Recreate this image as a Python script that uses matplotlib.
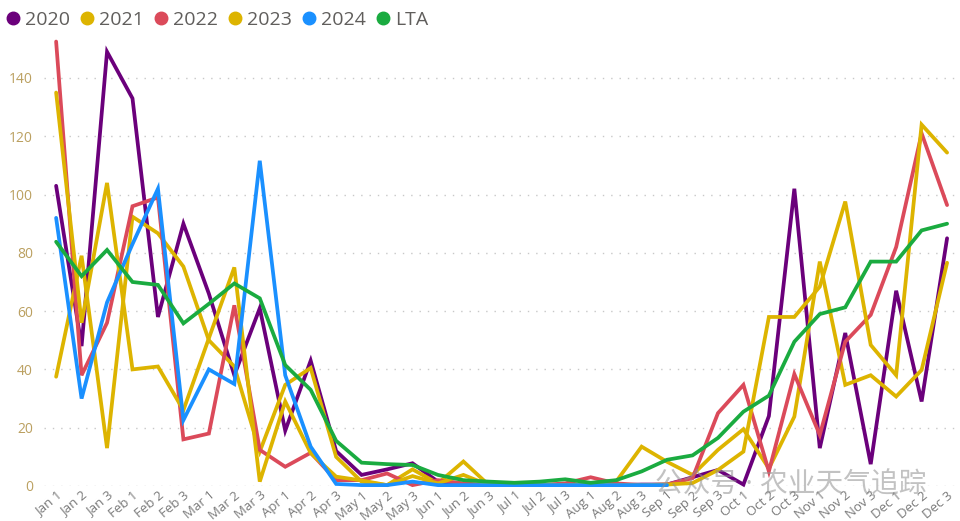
import numpy as np
import matplotlib
matplotlib.use("Agg")
import matplotlib.pyplot as plt
from matplotlib.lines import Line2D

plt.rcParams['font.family'] = ['Open Sans', 'Noto Sans CJK SC', 'DejaVu Sans']

# dekad labels
periods = ['Jan 1', 'Jan 2', 'Jan 3', 'Feb 1', 'Feb 2', 'Feb 3', 'Mar 1', 'Mar 2', 'Mar 3',
           'Apr 1', 'Apr 2', 'Apr 3', 'May 1', 'May 2', 'May 3', 'Jun 1', 'Jun 2', 'Jun 3',
           'Jul 1', 'Jul 2', 'Jul 3', 'Aug 1', 'Aug 2', 'Aug 3', 'Sep 1', 'Sep 2', 'Sep 3',
           'Oct 1', 'Oct 2', 'Oct 3', 'Nov 1', 'Nov 2', 'Nov 3', 'Dec 1', 'Dec 2', 'Dec 3']

y2020 = [103, 48, 149, 133, 58, 90, 66, 38, 61, 19, 43, 12, 3.8, 5.7, 7.8, 1.5, 0.5, 0.3,
         0.3, 0.3, 0.3, 0.3, 0.3, 0.5, 0.5, 3, 5.5, 0.5, 24, 102, 13, 52.5, 7.5, 67, 29, 85]
y2021 = [37.5, 79, 13, 92.4, 86.7, 75.3, 50, 41, 11.8, 34.7, 40.5, 10, 1.5, 0.3, 5.7, 0.9, 8.4, 0.3,
         0.3, 0.3, 0.3, 0.3, 1.5, 13.5, 8.3, 3.8, 12.4, 19.5, 6, 23.8, 77, 34.7, 38, 30.7, 39.8, 76.6]
y2022 = [152.5, 38, 56, 96, 99, 16, 18, 62, 12.4, 6.6, 11.4, 2, 2, 4.3, 0.3, 2, 0.9, 0.3,
         0.3, 0.3, 0.9, 3, 0.9, 0.3, 0.5, 2.7, 25, 34.7, 5, 38.4, 17.5, 49.5, 58.7, 82, 121, 96.4]
y2023 = [135, 56, 104, 40, 41, 26, 50.7, 75, 1.5, 29, 11.3, 3.2, 1.9, 0.3, 3.4, 0.9, 3.8, 0.3,
         0.3, 0.3, 0.3, 0.3, 0.3, 0.3, 0.5, 1, 5.5, 11.8, 58, 58, 68.4, 97.6, 48.4, 38, 124, 114.4]
y2024 = [92, 30, 63, 83, 102, 22.6, 40, 35, 111.6, 38, 13.5, 0.7, 0.3, 0.3, 1.5, 0.3, 0.3, 0.3,
         0.3, 0.3, 0.3, 0.3, 0.3, 0.3, 0.3] + [np.nan] * 11
lta = [83.8, 72, 81, 70, 69, 55.8, 62.5, 69.5, 64.4, 41.5, 33, 15.5, 8, 7.5, 7.2, 3.8, 2, 1.5,
       1.1, 1.5, 2.3, 1.1, 2, 5, 9, 10.5, 16.5, 25.5, 31, 49.5, 59, 61.3, 77, 77, 87.7, 90]

series = [('2020', y2020, '#6B007B'),
          ('2021', y2021, '#DDB400'),
          ('2022', y2022, '#DB4A5A'),
          ('2023', y2023, '#DDB400'),
          ('2024', y2024, '#1A90FF'),
          ('LTA', lta, '#1AAB40')]

fig = plt.figure(figsize=(9.6, 5.21), dpi=100)
ax = fig.add_axes([0.046, 0.0672, 0.953, 0.867])

x = np.arange(len(periods))
for name, vals, col in series:
    ax.plot(x, vals, color=col, linewidth=2.7, solid_capstyle='round',
            solid_joinstyle='miter', clip_on=False, zorder=3)

ax.set_xlim(-0.47, len(periods) - 0.53)
ax.set_ylim(0, 155)
ax.set_yticks(np.arange(0, 141, 20))
ax.grid(axis='y', color='#C8C8C8', linestyle=(0, (1, 5)), linewidth=1.0)
ax.set_axisbelow(True)
for s in ax.spines.values():
    s.set_visible(False)
ax.tick_params(axis='both', length=0)
ax.tick_params(axis='y', labelcolor='#BBA060', labelsize=10, pad=8)
ax.set_xticks(x)
ax.set_xticklabels(periods, rotation=40, ha='right', rotation_mode='anchor',
                   fontsize=9.5, color='#7A7A7A')
ax.tick_params(axis='x', pad=2)

handles = [Line2D([], [], marker='o', linestyle='', markersize=9, color=c) for _, _, c in series]
fig.legend(handles, [n for n, _, _ in series], loc='upper left', bbox_to_anchor=(-0.016, 1.012),
           ncol=6, frameon=False, fontsize=14, handletextpad=0.05, columnspacing=0.35,
           handlelength=1.1, labelcolor='#605E5C')

# watermark
fig.text(0.682, 0.068, '公众号 · 农业天气追踪', fontsize=20, color='#909090', alpha=0.55,
         va='center', ha='left')

fig.savefig('out.png', dpi=100)
